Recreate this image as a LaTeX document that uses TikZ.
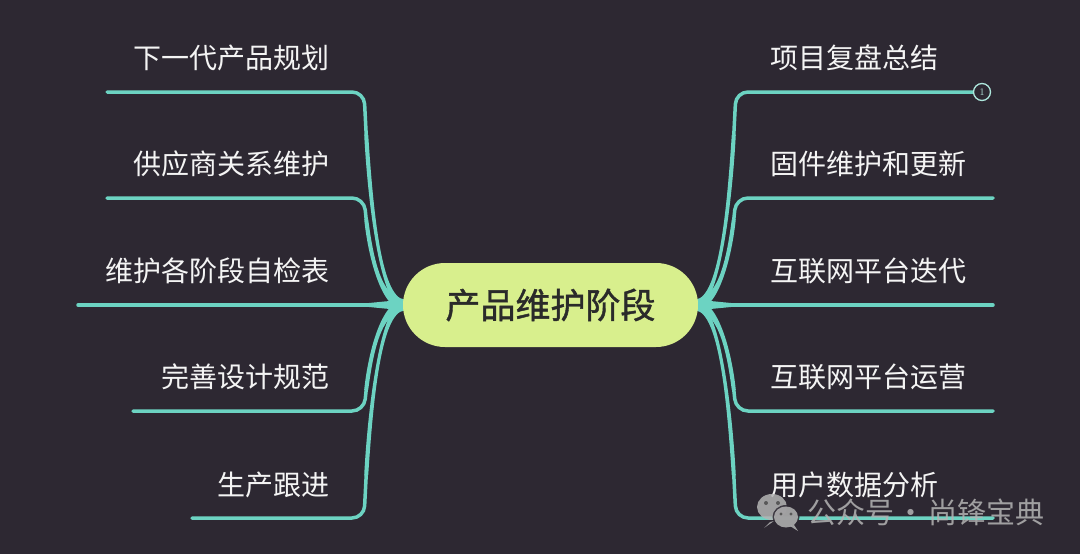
\documentclass[tikz,border=0pt]{standalone}
\usepackage{fontspec}
\newfontfamily\cjk{Noto Sans CJK SC}
\newfontfamily\cjkb[FakeBold=1.2]{Noto Sans CJK SC}
\definecolor{bg}{HTML}{2D2832}
\definecolor{tealc}{HTML}{6CD3C2}
\definecolor{ctrfill}{HTML}{D8EF8D}
\definecolor{ctrtext}{HTML}{2A2A2A}
\definecolor{brtext}{HTML}{F4F4F4}
\definecolor{wm}{HTML}{B4B4B4}
\tikzset{
  branchline/.style={draw=tealc, line width=3.5pt, rounded corners=12pt, line cap=round},
  ltext/.style={font=\cjk\fontsize{28}{30}\selectfont, text=brtext, inner sep=0pt, anchor=east},
  rtext/.style={font=\cjk\fontsize{28}{30}\selectfont, text=brtext, inner sep=0pt, anchor=west},
  ctrnode/.style={fill=ctrfill, rounded corners=42pt, minimum width=295pt, minimum height=84pt,
    inner sep=0pt, font=\cjkb\fontsize{35}{38}\selectfont, text=ctrtext},
}
% #1 side (1 left, -1 right), #2 target y, #3 end x (left frame), #4 name
\newcommand\mmbranch[4]{%
  \pgfmathsetmacro\dy{#2-305}%
  \pgfmathsetmacro\sg{sign(\dy)}%
  \pgfmathsetmacro\ya{305+\sg*5.5}%
  \pgfmathsetmacro\yb{305-\sg*5.5}%
  \pgfmathsetmacro\ym{305+0.5*\dy}%
  \pgfmathsetmacro\ye{305+0.8*\dy}%
  \pgfmathsetmacro\xA{550+#1*(405-550)}%
  \pgfmathsetmacro\xB{550+#1*(380-550)}%
  \pgfmathsetmacro\xCi{550+#1*(372.5-550)}%
  \pgfmathsetmacro\xCo{550+#1*(367.5-550)}%
  \pgfmathsetmacro\xDi{550+#1*(368.2-550)}%
  \pgfmathsetmacro\xDo{550+#1*(364.2-550)}%
  \pgfmathsetmacro\xD{550+#1*(366.2-550)}%
  \pgfmathsetmacro\xK{550+#1*(364-550)}%
  \pgfmathsetmacro\xE{550+#1*(#3-550)}%
  \fill[tealc] (\xA,\ya) .. controls (\xB,\ya) and (\xCi,\ym) .. (\xDi,\ye)
     -- (\xDo,\ye) .. controls (\xCo,\ym) and (\xB,\yb) .. (\xA,\yb) -- cycle;
  \coordinate (#4s) at (\xD,\ye);
  \coordinate (#4e) at (\xE,#2);
  \draw[branchline] (#4s) -- (\xK,#2) -- (#4e);
}
% straight middle branch
\newcommand\mmmid[3]{%
  \pgfmathsetmacro\xA{550+#1*(405-550)}%
  \pgfmathsetmacro\xD{550+#1*(367-550)}%
  \pgfmathsetmacro\xE{550+#1*(#2-550)}%
  \fill[tealc] (\xA,299.5) -- (\xD,303.2) -- (\xD,306.8) -- (\xA,310.5) -- cycle;
  \coordinate (#3s) at (\xD,305);
  \coordinate (#3e) at (\xE,305);
  \draw[branchline] (#3s) -- (#3e);
}
\begin{document}
\begin{tikzpicture}[x={(1pt,0)}, y={(0,-1pt)}]
\fill[bg] (0,0) rectangle (1080,554);
\useasboundingbox (0,0) rectangle (1080,554);

% left branches
\mmbranch{1}{92}{107}{L1}
\mmbranch{1}{198}{107}{L2}
\mmmid{1}{78}{L3}
\mmbranch{1}{411}{133}{L4}
\mmbranch{1}{518}{192}{L5}
% right branches
\mmbranch{-1}{92}{127}{R1}
\mmbranch{-1}{198}{107}{R2}
\mmmid{-1}{107}{R3}
\mmbranch{-1}{411}{107}{R4}
\mmbranch{-1}{518}{107}{R5}

\node[ctrnode] (ctr) at (550.5,305) {产品维护阶段};

\node[ltext] (tL1) at (330,58) {下一代产品规划};
\node[ltext] (tL2) at (330,164) {供应商关系维护};
\node[ltext] (tL3) at (330,271) {维护各阶段自检表};
\node[ltext] (tL4) at (330,377) {完善设计规范};
\node[ltext] (tL5) at (330,485) {生产跟进};

\node[rtext] (tR1) at (770,58) {项目复盘总结};
\node[rtext] (tR2) at (770,164) {固件维护和更新};
\node[rtext] (tR3) at (770,271) {互联网平台迭代};
\node[rtext] (tR4) at (770,377) {互联网平台运营};
\node[rtext] (tR5) at (770,485) {用户数据分析};

\node[circle, draw=tealc!55!white, line width=1.3pt, fill=bg, minimum size=17pt, inner sep=0pt,
  font=\fontsize{10}{10}\selectfont, text=tealc!50!white] (n1) at (982,92) {1};

% watermark
\begin{scope}[opacity=0.85]
\fill[wm] (772,507) ellipse (15 and 13);
\fill[wm] (770,522) -- (764,528) -- (774,521) -- cycle;
\fill[black!70] (766,503) circle (2);
\fill[black!70] (778,503) circle (2);
\fill[bg] (786,517) ellipse (13.5 and 12);
\fill[wm] (786,517) ellipse (12 and 10.5);
\fill[wm] (794,525) -- (798,531) -- (790,526) -- cycle;
\fill[black!70] (781,514) circle (1.7);
\fill[black!70] (791,514) circle (1.7);
\node[font=\cjk\fontsize{29}{31}\selectfont, text=wm, inner sep=0pt, anchor=west] (wmt) at (807,512)
  {公众号\makebox[34pt]{·}尚锋宝典};
\end{scope}
\end{tikzpicture}
\end{document}
